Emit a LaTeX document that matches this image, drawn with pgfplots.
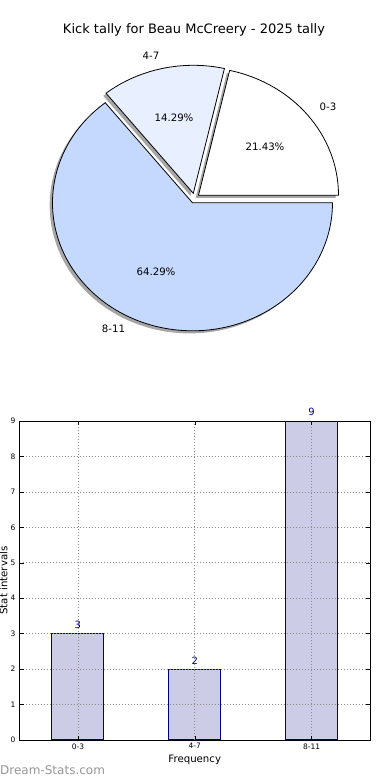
\documentclass[border=0pt]{standalone}
\usepackage{pgfplots}
\pgfplotsset{compat=1.18}
\usepackage{pgfplotstable}
\usepackage{fontspec}
\setmainfont{DejaVu Sans}
\definecolor{sliceA}{RGB}{255,255,255}
\definecolor{sliceB}{RGB}{232,240,255}
\definecolor{sliceC}{RGB}{197,217,255}
\definecolor{barfill}{RGB}{204,204,230}
\definecolor{navyblue}{RGB}{0,0,128}
\definecolor{wmgray}{RGB}{150,150,150}

\pgfplotstableread{
label value
0-3 3
4-7 2
8-11 9
}\kicktable

\newcommand\lblfont{\fontsize{10.2bp}{12bp}\selectfont}
\newcommand\tickfont{\fontsize{7.5bp}{9bp}\selectfont}

\begin{document}
\begin{tikzpicture}
\pgfplotstablegetelem{0}{value}\of\kicktable \let\vA\pgfplotsretval
\pgfplotstablegetelem{1}{value}\of\kicktable \let\vB\pgfplotsretval
\pgfplotstablegetelem{2}{value}\of\kicktable \let\vC\pgfplotsretval
\pgfmathsetmacro\tot{\vA+\vB+\vC}
\pgfmathsetmacro\aB{360*\vA/\tot}
\pgfmathsetmacro\aC{360*(\vA+\vB)/\tot}
\path[use as bounding box] (0bp,0bp) rectangle (390bp,780bp);

% ---------------- pie ----------------
\begin{axis}[at={(0bp,390bp)}, anchor=south west, x=1bp, y=1bp,
  xmin=0, xmax=390, ymin=390, ymax=780, hide axis, clip=false]
  % shadows
  \fill[black, opacity=0.35] (axis cs:195.7,582.2) -- ++(0:140bp and 128bp)
     arc[start angle=0, end angle=\aB, x radius=140bp, y radius=128bp] -- cycle;
  \fill[black, opacity=0.35] (axis cs:190.5,584.1) -- ++(\aB:140bp and 128bp)
     arc[start angle=\aB, end angle=\aC, x radius=140bp, y radius=128bp] -- cycle;
  \fill[black, opacity=0.35] (axis cs:189.7,574.6) -- ++(\aC:140bp and 128bp)
     arc[start angle=\aC, end angle=360, x radius=140bp, y radius=128bp] -- cycle;
  % wedges
  \filldraw[fill=sliceA, draw=black, line width=0.8bp] (axis cs:198.5,584.8) -- ++(0:140bp and 128bp)
     arc[start angle=0, end angle=\aB, x radius=140bp, y radius=128bp] -- cycle;
  \filldraw[fill=sliceB, draw=black, line width=0.8bp] (axis cs:193.3,586.7) -- ++(\aB:140bp and 128bp)
     arc[start angle=\aB, end angle=\aC, x radius=140bp, y radius=128bp] -- cycle;
  \filldraw[fill=sliceC, draw=black, line width=0.8bp] (axis cs:192.5,577.2) -- ++(\aC:140bp and 128bp)
     arc[start angle=\aC, end angle=360, x radius=140bp, y radius=128bp] -- cycle;
  % labels
  \node[font=\lblfont, inner sep=0pt] at (axis cs:265,633) {21.43\%};
  \node[font=\lblfont, inner sep=0pt] at (axis cs:174,662) {14.29\%};
  \node[font=\lblfont, inner sep=0pt] at (axis cs:156,508) {64.29\%};
  \node[font=\lblfont, inner sep=0pt] at (axis cs:328,673) {0-3};
  \node[font=\lblfont, inner sep=0pt] at (axis cs:151,724) {4-7};
  \node[font=\lblfont, inner sep=0pt] at (axis cs:113.5,451) {8-11};
  \node[font=\fontsize{13bp}{15bp}\selectfont, inner sep=0pt, anchor=base] at (axis cs:194,746.5)
     {Kick tally for Beau McCreery - 2025 tally};
\end{axis}

% ---------------- bars ----------------
\begin{axis}[at={(19.5bp,40bp)}, anchor=south west,
  width=350.5bp, height=319bp, scale only axis,
  xmin=-0.5, xmax=2.5, ymin=0, ymax=9,
  xtick={0,1,2}, xticklabels={0-3,4-7,8-11},
  ytick={0,1,...,9},
  /pgf/number format/assume math mode=true,
  ticklabel style={font=\tickfont},
  xticklabel style={inner sep=0pt, anchor=north, yshift=-3.3bp},
  yticklabel style={inner sep=0pt, anchor=east, xshift=-4bp},
  tick align=inside, major tick length=4bp,
  tick style={black, line width=0.5bp},
  axis line style={line width=0.9bp},
  grid=major,
  major grid style={black!45, line width=0.6bp, dash pattern=on 1bp off 2bp},
  axis on top,
  xlabel={Frequency}, ylabel={Stat intervals},
  xlabel style={font=\lblfont, at={(axis description cs:0.5,-0.0627)}, anchor=center, inner sep=0pt},
  ylabel style={font=\lblfont, at={(axis description cs:-0.0456,0.5)}, anchor=center, inner sep=0pt},
]
\addplot[ybar, bar width=52bp, fill=barfill, draw=navyblue, line width=1bp,
  nodes near coords,
  nodes near coords style={font=\fontsize{10bp}{12bp}\selectfont, text=navyblue, anchor=south, inner sep=0pt, yshift=4.5bp}]
  table[x expr=\coordindex, y=value] {\kicktable};
\end{axis}

\node[font=\fontsize{12bp}{14bp}\selectfont, text=wmgray, anchor=base west, inner sep=0pt] at (0bp,6bp) {Dream-Stats.com};
\end{tikzpicture}
\end{document}
